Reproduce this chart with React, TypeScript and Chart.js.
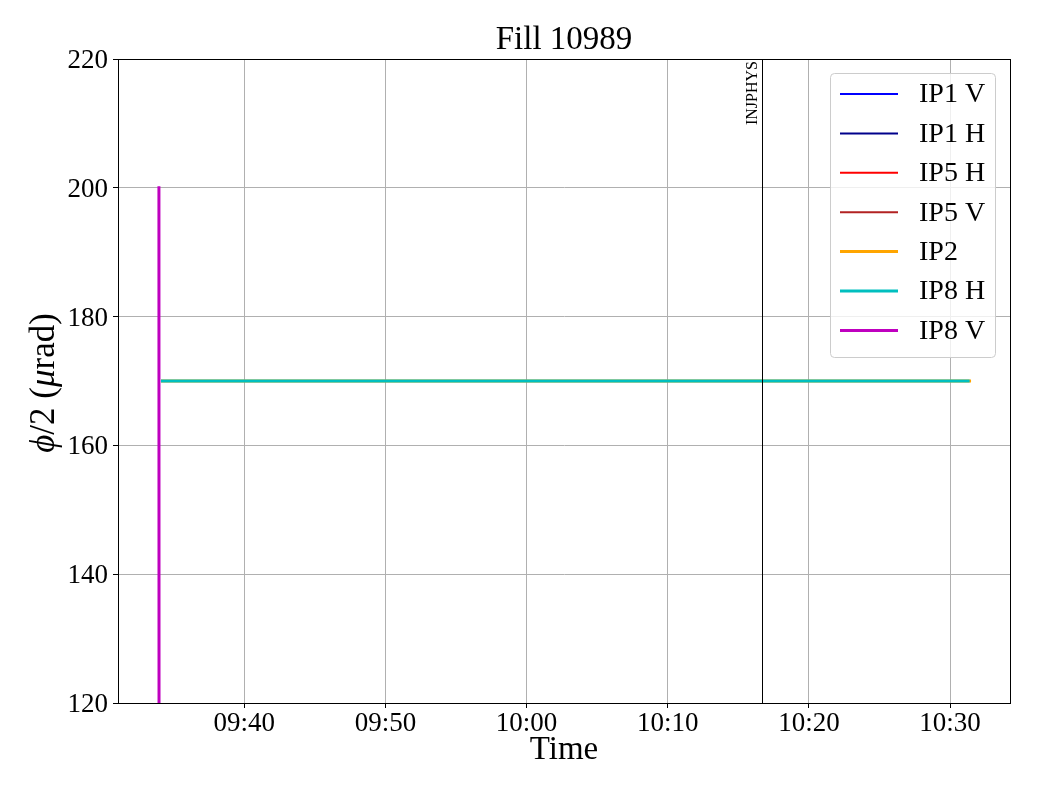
import { useEffect, useRef } from "react";
import { Chart, registerables } from "chart.js";

Chart.register(...registerables);

const chartTitle = "Fill 10989";
const xAxisLabel = "Time";
const markerLabel = "INJPHYS";
const markerTime = "10:16:42";

const seriesLabels = ["IP1 V", "IP1 H", "IP5 H", "IP5 V", "IP2", "IP8 H", "IP8 V"];
const seriesColors = ["#0000ff", "#00008b", "#ff0000", "#b22222", "#ffa500", "#00bfbf", "#bf00bf"];
const seriesWidths = [2, 2, 2, 2, 3, 3, 3];

const ip1vTimes: string[] = [];
const ip1vValues: number[] = [];
const ip1hTimes: string[] = [];
const ip1hValues: number[] = [];
const ip5hTimes: string[] = [];
const ip5hValues: number[] = [];
const ip5vTimes: string[] = [];
const ip5vValues: number[] = [];
const ip2Times = ["09:34:12", "10:31:23"];
const ip2Values = [170, 170];
const ip8hTimes = ["09:34:12", "10:31:17"];
const ip8hValues = [170, 170];
const ip8vTimes = ["09:33:57", "09:33:58", "10:31:17"];
const ip8vValues = [200, 0, 0];

const xRange = ["09:31:03", "10:34:15"];
const yRange = [120, 220];
const yTickStep = 20;
const xTickStepMinutes = 10;

const FONT = "'Liberation Serif', 'Times New Roman', serif";

function toSec(s: string): number {
  const p = s.split(":").map(Number);
  return p[0] * 3600 + p[1] * 60 + (p[2] || 0);
}
function fmt(sec: number): string {
  const h = Math.floor(sec / 3600);
  const m = Math.floor((sec % 3600) / 60);
  return String(h).padStart(2, "0") + ":" + String(m).padStart(2, "0");
}
function pts(times: string[], values: number[]) {
  return times.map((t, i) => ({ x: toSec(t), y: values[i] }));
}

const seriesData = [
  pts(ip1vTimes, ip1vValues),
  pts(ip1hTimes, ip1hValues),
  pts(ip5hTimes, ip5hValues),
  pts(ip5vTimes, ip5vValues),
  pts(ip2Times, ip2Values),
  pts(ip8hTimes, ip8hValues),
  pts(ip8vTimes, ip8vValues),
];

const decorPlugin = {
  id: "decor",
  afterDatasetsDraw(chart: any) {
    const { ctx, chartArea: a, scales } = chart;
    const xs = scales.x;
    ctx.save();
    const mx = Math.round(xs.getPixelForValue(toSec(markerTime))) + 0.5;
    ctx.strokeStyle = "#000";
    ctx.lineWidth = 1;
    ctx.beginPath();
    ctx.moveTo(mx, a.top);
    ctx.lineTo(mx, a.bottom);
    ctx.stroke();
    ctx.save();
    ctx.translate(mx - 2, a.top + 2);
    ctx.rotate(-Math.PI / 2);
    ctx.fillStyle = "#000";
    ctx.font = `16px ${FONT}`;
    ctx.textAlign = "right";
    ctx.textBaseline = "bottom";
    ctx.fillText(markerLabel, 0, 0);
    ctx.restore();
    ctx.strokeStyle = "#000";
    ctx.lineWidth = 1;
    ctx.strokeRect(Math.round(a.left) + 0.5, Math.round(a.top) + 0.5, Math.round(a.right - a.left), Math.round(a.bottom - a.top));
    ctx.restore();
  },
  afterDraw(chart: any) {
    const { ctx, chartArea: a } = chart;
    ctx.save();
    const cx = (a.left + a.right) / 2;
    ctx.fillStyle = "#000";
    ctx.textAlign = "center";
    ctx.textBaseline = "alphabetic";
    ctx.font = `33px ${FONT}`;
    ctx.fillText(chartTitle, cx, 49);
    ctx.fillText(xAxisLabel, cx, 759);
    const segs = [
      { t: "ϕ", it: true },
      { t: "/2 (", it: false },
      { t: "μ", it: true },
      { t: "rad)", it: false },
    ];
    const ys = 35;
    ctx.save();
    ctx.translate(54, (a.top + a.bottom) / 2 + 2);
    ctx.rotate(-Math.PI / 2);
    ctx.textAlign = "left";
    let total = 0;
    const widths = segs.map((s) => {
      ctx.font = `${s.it ? "italic " : ""}${ys}px ${FONT}`;
      const w = ctx.measureText(s.t).width;
      total += w;
      return w;
    });
    let x = -total / 2;
    segs.forEach((s, i) => {
      ctx.font = `${s.it ? "italic " : ""}${ys}px ${FONT}`;
      ctx.fillText(s.t, x, 0);
      x += widths[i];
    });
    ctx.restore();
    const lx = 830.5, ly = 73.5, lw = 165, lh = 284;
    ctx.fillStyle = "rgba(255,255,255,0.8)";
    ctx.strokeStyle = "#cccccc";
    ctx.lineWidth = 1;
    ctx.beginPath();
    (ctx as any).roundRect(lx, ly, lw, lh, 4);
    ctx.fill();
    ctx.stroke();
    ctx.font = `28px ${FONT}`;
    ctx.textAlign = "left";
    ctx.textBaseline = "middle";
    chart.data.datasets.forEach((ds: any, i: number) => {
      const y = 94 + i * 39.4;
      ctx.strokeStyle = ds.borderColor;
      ctx.lineWidth = ds.borderWidth;
      ctx.beginPath();
      ctx.moveTo(840, y);
      ctx.lineTo(898, y);
      ctx.stroke();
      ctx.fillStyle = "#000";
      ctx.fillText(ds.label, 919, y + 1);
    });
    ctx.restore();
  },
};

export default function App() {
  const ref = useRef<HTMLCanvasElement>(null);
  useEffect(() => {
    document.body.style.margin = "0";
    const n = seriesLabels.length;
    const chart = new Chart(ref.current!, {
      type: "line",
      data: {
        datasets: seriesLabels.map((label, i) => ({
          label,
          data: seriesData[i],
          borderColor: seriesColors[i],
          backgroundColor: seriesColors[i],
          borderWidth: seriesWidths[i],
          borderCapStyle: "square",
          borderJoinStyle: "round",
          pointRadius: 0,
          fill: false,
          tension: 0,
          clip: 0,
          order: n - i,
        })),
      },
      options: {
        animation: false,
        responsive: false,
        devicePixelRatio: 1,
        parsing: false,
        layout: { padding: { left: 0, top: 59, right: 30, bottom: 0 } },
        plugins: {
          legend: { display: false },
          title: { display: false },
          tooltip: { enabled: false },
        },
        scales: {
          x: {
            type: "linear",
            min: toSec(xRange[0]),
            max: toSec(xRange[1]),
            afterBuildTicks: (scale: any) => {
              const step = xTickStepMinutes * 60;
              const ticks = [];
              for (let v = Math.ceil(scale.min / step) * step; v <= scale.max; v += step) ticks.push({ value: v });
              scale.ticks = ticks;
            },
            afterFit: (scale: any) => {
              scale.height = 97;
            },
            ticks: {
              callback: (v: any) => fmt(Number(v)),
              color: "#000",
              font: { family: FONT, size: 27, lineHeight: 1 },
              padding: 2,
              maxRotation: 0,
              autoSkip: false,
            },
            grid: { color: "#b0b0b0", lineWidth: 1, tickLength: 5, tickColor: "#000" },
            border: { color: "#000", width: 1 },
          },
          y: {
            type: "linear",
            min: yRange[0],
            max: yRange[1],
            afterFit: (scale: any) => {
              scale.width = 118;
            },
            ticks: {
              stepSize: yTickStep,
              color: "#000",
              font: { family: FONT, size: 27 },
              padding: 5,
              labelOffset: 2,
            },
            grid: { color: "#b0b0b0", lineWidth: 1, tickLength: 5, tickColor: "#000" },
            border: { color: "#000", width: 1 },
          },
        },
      },
      plugins: [decorPlugin],
    });
    return () => chart.destroy();
  }, []);
  return (
    <div style={{ position: "absolute", left: 0, top: 0, width: 1040, height: 800, background: "#fff" }}>
      <canvas ref={ref} width={1040} height={800} style={{ width: 1040, height: 800 }} />
    </div>
  );
}
